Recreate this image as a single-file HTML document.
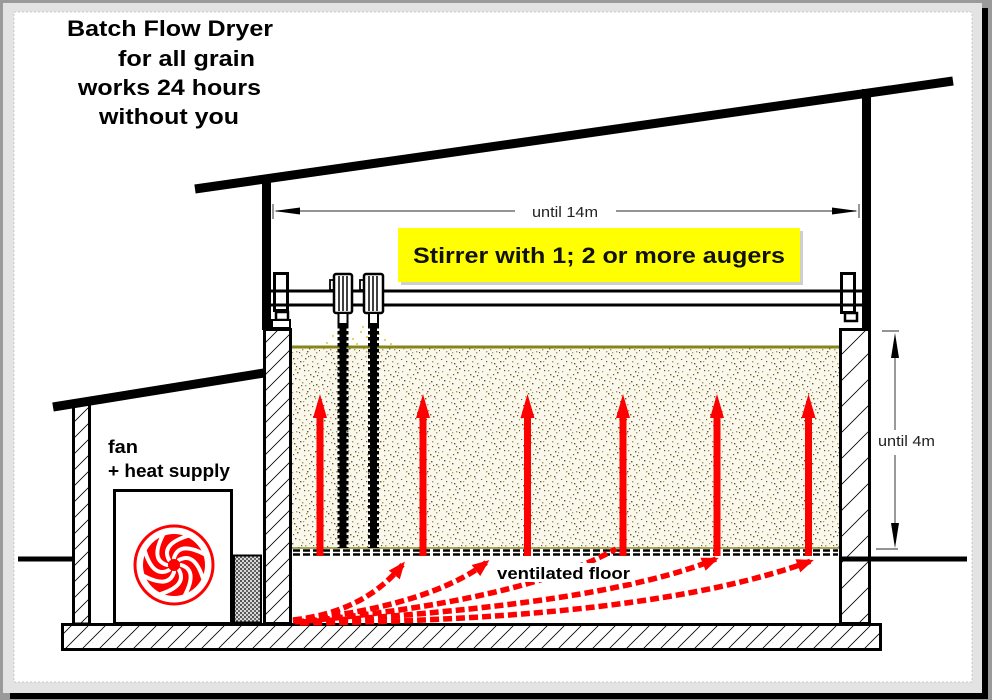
<!DOCTYPE html>
<html><head><meta charset="utf-8"><style>
html,body{margin:0;padding:0;background:#fff;}
svg{display:block;}
text{font-family:"Liberation Sans",Arial,sans-serif;}
</style></head><body>
<svg width="992" height="700" viewBox="0 0 992 700" xmlns="http://www.w3.org/2000/svg">
<defs>
<pattern id="h16" width="16" height="16" patternUnits="userSpaceOnUse"><path d="M0,16 L16,0 M-2,2 L2,-2 M14,18 L18,14" stroke="#000" stroke-width="0.8"/></pattern>
<pattern id="h26" width="26" height="26" patternUnits="userSpaceOnUse"><path d="M0,26 L26,0 M-2,2 L2,-2 M24,28 L28,24" stroke="#000" stroke-width="0.8"/></pattern>
<pattern id="h17" width="17" height="17" patternUnits="userSpaceOnUse"><path d="M0,17 L17,0 M-2,2 L2,-2 M15,19 L19,15" stroke="#000" stroke-width="0.8"/></pattern>
<pattern id="chk" width="4" height="4" patternUnits="userSpaceOnUse"><rect width="4" height="4" fill="#d8d8d8"/><rect x="0" y="0" width="2" height="2" fill="#555"/><rect x="2" y="2" width="2" height="2" fill="#666"/></pattern>
<pattern id="grain" width="40" height="40" patternUnits="userSpaceOnUse">
<rect width="40" height="40" fill="#faf8ec"/>
<g fill="#5f5a28">
<rect x="3" y="5" width="1.4" height="1.4"/><rect x="19" y="8" width="1.4" height="1.4"/><rect x="35" y="11" width="1.4" height="1.4"/><rect x="15" y="18" width="1.4" height="1.4"/><rect x="31" y="21" width="1.4" height="1.4"/><rect x="2" y="24" width="1.4" height="1.4"/><rect x="18" y="27" width="1.4" height="1.4"/><rect x="34" y="36" width="1.4" height="1.4"/><rect x="13" y="38" width="1.4" height="1.4"/><rect x="29" y="28" width="1.4" height="1.4"/><rect x="9" y="9" width="1.4" height="1.4"/><rect x="33" y="16" width="1.4" height="1.4"/><rect x="1" y="17" width="1.4" height="1.4"/><rect x="12" y="23" width="1.4" height="1.4"/><rect x="20" y="1" width="1.4" height="1.4"/><rect x="25" y="38" width="1.4" height="1.4"/><rect x="17" y="12" width="1.4" height="1.4"/><rect x="4" y="20" width="1.4" height="1.4"/><rect x="27" y="31" width="1.4" height="1.4"/><rect x="38" y="7" width="1.4" height="1.4"/><rect x="8" y="33" width="1.4" height="1.4"/><rect x="23" y="5" width="1.4" height="1.4"/><rect x="36" y="24" width="1.4" height="1.4"/><rect x="14" y="3" width="1.4" height="1.4"/><rect x="30" y="14" width="1.4" height="1.4"/>
<rect x="6" y="1" width="1.2" height="1.2"/><rect x="13" y="14" width="1.2" height="1.2"/><rect x="26" y="19" width="1.2" height="1.2"/><rect x="39" y="30" width="1.2" height="1.2"/><rect x="11" y="35" width="1.2" height="1.2"/><rect x="21" y="25" width="1.2" height="1.2"/><rect x="32" y="6" width="1.2" height="1.2"/><rect x="7" y="26" width="1.2" height="1.2"/><rect x="24" y="10" width="1.2" height="1.2"/><rect x="37" y="15" width="1.2" height="1.2"/><rect x="16" y="6" width="1.2" height="1.2"/><rect x="28" y="36" width="1.2" height="1.2"/><rect x="1" y="39" width="1.2" height="1.2"/><rect x="19" y="32" width="1.2" height="1.2"/><rect x="33" y="25" width="1.2" height="1.2"/>
</g>
<g fill="#a8985a">
<rect x="11" y="2" width="1.4" height="1.4"/><rect x="27" y="4" width="1.4" height="1.4"/><rect x="7" y="14" width="1.4" height="1.4"/><rect x="24" y="15" width="1.4" height="1.4"/><rect x="38" y="26" width="1.4" height="1.4"/><rect x="10" y="29" width="1.4" height="1.4"/><rect x="26" y="33" width="1.4" height="1.4"/><rect x="5" y="36" width="1.4" height="1.4"/><rect x="21" y="35" width="1.4" height="1.4"/><rect x="37" y="3" width="1.4" height="1.4"/><rect x="22" y="22" width="1.4" height="1.4"/><rect x="16" y="31" width="1.4" height="1.4"/><rect x="28" y="10" width="1.4" height="1.4"/><rect x="36" y="32" width="1.4" height="1.4"/><rect x="6" y="31" width="1.4" height="1.4"/><rect x="39" y="19" width="1.4" height="1.4"/><rect x="30" y="35" width="1.4" height="1.4"/><rect x="32" y="1" width="1.4" height="1.4"/><rect x="19" y="19" width="1.4" height="1.4"/><rect x="3" y="28" width="1.4" height="1.4"/><rect x="25" y="25" width="1.4" height="1.4"/><rect x="10" y="17" width="1.4" height="1.4"/><rect x="34" y="29" width="1.4" height="1.4"/><rect x="15" y="9" width="1.4" height="1.4"/><rect x="22" y="29" width="1.4" height="1.4"/>
<rect x="9" y="21" width="1.2" height="1.2"/><rect x="29" y="23" width="1.2" height="1.2"/><rect x="35" y="38" width="1.2" height="1.2"/><rect x="2" y="11" width="1.2" height="1.2"/><rect x="17" y="38" width="1.2" height="1.2"/><rect x="23" y="1" width="1.2" height="1.2"/><rect x="12" y="32" width="1.2" height="1.2"/><rect x="38" y="12" width="1.2" height="1.2"/>
</g>
</pattern>
<marker id="ra" markerUnits="userSpaceOnUse" markerWidth="18" markerHeight="16" refX="14" refY="8" orient="auto"><path d="M0,1 L17,8 L0,15 z" fill="#ff0000"/></marker>
<path id="blade" d="M7,0 Q24,5 11,30" fill="none" stroke="#fff" stroke-width="4" stroke-linecap="round"/>
</defs>

<!-- frame -->
<rect x="0" y="0" width="992" height="700" fill="#9a9a9a"/>
<rect x="3" y="3" width="979" height="690" fill="#e3e3e3"/>
<rect x="982" y="8" width="6" height="691" fill="#000"/>
<rect x="10" y="693" width="978" height="6" fill="#000"/>
<rect x="14" y="12" width="958" height="670" fill="#fff" stroke="#c8c8c8" stroke-width="1" stroke-dasharray="2 2"/>

<!-- title -->
<g font-weight="bold" font-size="22" fill="#000">
<text x="67" y="36" textLength="206" lengthAdjust="spacingAndGlyphs">Batch Flow Dryer</text>
<text x="118" y="66" textLength="137" lengthAdjust="spacingAndGlyphs">for all grain</text>
<text x="78" y="95" textLength="183" lengthAdjust="spacingAndGlyphs">works 24 hours</text>
<text x="99" y="124" textLength="140" lengthAdjust="spacingAndGlyphs">without you</text>
</g>

<!-- main roof and posts -->
<line x1="195" y1="189" x2="953" y2="81" stroke="#000" stroke-width="9"/>
<rect x="262" y="177" width="9" height="153" fill="#000"/>
<rect x="862" y="89" width="9" height="241" fill="#000"/>

<!-- 14m dimension -->
<g stroke="#555" stroke-width="1.2">
<line x1="276" y1="211" x2="515" y2="211"/>
<line x1="616" y1="211" x2="856" y2="211"/>
<line x1="273" y1="204" x2="273" y2="219"/>
<line x1="859" y1="204" x2="859" y2="218"/>
</g>
<path d="M274,211 L300,207.5 L300,214.5 z" fill="#000"/>
<path d="M858,211 L832,207.5 L832,214.5 z" fill="#000"/>
<text x="532" y="217" font-size="15" fill="#222" textLength="66" lengthAdjust="spacingAndGlyphs">until 14m</text>

<!-- yellow label -->
<rect x="401" y="231" width="402" height="54" fill="#cfcfcf"/>
<rect x="398" y="228" width="402" height="54" fill="#ffff00"/>
<text x="413" y="263" font-size="22" font-weight="bold" fill="#111" textLength="372" lengthAdjust="spacingAndGlyphs">Stirrer with 1; 2 or more augers</text>

<!-- grain -->
<rect x="292" y="347" width="547" height="201" fill="url(#grain)"/>
<line x1="292" y1="347" x2="839" y2="347" stroke="#858519" stroke-width="3"/>
<line x1="292" y1="548" x2="839" y2="548" stroke="#8a8a2a" stroke-width="1.5"/>
<!-- ventilated floor -->
<g stroke="#000" stroke-width="2.6" stroke-dasharray="7 3">
<line x1="293" y1="550.5" x2="838" y2="550.5"/>
<line x1="293" y1="554.5" x2="838" y2="554.5"/>
</g>

<!-- yellow dust near augers -->
<g fill="#e4d46a">
<rect x="332" y="335" width="2" height="2"/><rect x="338" y="330" width="2" height="2"/><rect x="346" y="333" width="2" height="2"/><rect x="352" y="338" width="2" height="2"/><rect x="360" y="331" width="2" height="2"/><rect x="366" y="336" width="2" height="2"/><rect x="378" y="333" width="2" height="2"/><rect x="384" y="339" width="2" height="2"/><rect x="341" y="340" width="2" height="2"/><rect x="356" y="343" width="2" height="2"/><rect x="372" y="341" width="2" height="2"/><rect x="390" y="343" width="2" height="2"/><rect x="326" y="342" width="2" height="2"/><rect x="362" y="326" width="2" height="2"/>
</g>

<!-- rails -->
<line x1="271" y1="291" x2="862" y2="291" stroke="#000" stroke-width="3"/>
<line x1="271" y1="305" x2="862" y2="305" stroke="#000" stroke-width="3"/>

<!-- left carriage -->
<rect x="274.5" y="273.5" width="13" height="37" fill="none" stroke="#000" stroke-width="3"/>
<rect x="276" y="312" width="12" height="8" fill="#fff" stroke="#000" stroke-width="2.5"/>
<rect x="272" y="320" width="18" height="8" fill="#fff" stroke="#000" stroke-width="2"/>
<!-- right carriage -->
<rect x="841.5" y="273.5" width="13" height="39" fill="none" stroke="#000" stroke-width="3"/>
<rect x="845" y="313" width="12" height="8" fill="#fff" stroke="#000" stroke-width="2.5"/>

<!-- augers -->
<g>
<line x1="343" y1="325" x2="343" y2="548" stroke="#000" stroke-width="7"/>
<line x1="343" y1="325" x2="343" y2="548" stroke="#000" stroke-width="11" stroke-dasharray="3.5 2.5"/>
<line x1="373.5" y1="325" x2="373.5" y2="548" stroke="#000" stroke-width="7"/>
<line x1="373.5" y1="325" x2="373.5" y2="548" stroke="#000" stroke-width="11" stroke-dasharray="3.5 2.5"/>
</g>
<!-- motors -->
<g stroke="#000" fill="#fff">
<rect x="330" y="280" width="4" height="10" stroke-width="1.8"/>
<rect x="334" y="274" width="18" height="39" rx="2" stroke-width="2.5"/>
<line x1="339" y1="276" x2="339" y2="311" stroke-width="1.5"/>
<line x1="343" y1="276" x2="343" y2="311" stroke-width="1.5"/>
<line x1="347" y1="276" x2="347" y2="311" stroke-width="1.5"/>
<rect x="338.5" y="313" width="9" height="11" stroke-width="2"/>
<rect x="360" y="280" width="4" height="10" stroke-width="1.8"/>
<rect x="364" y="274" width="19" height="39" rx="2" stroke-width="2.5"/>
<line x1="369" y1="276" x2="369" y2="311" stroke-width="1.5"/>
<line x1="373" y1="276" x2="373" y2="311" stroke-width="1.5"/>
<line x1="377" y1="276" x2="377" y2="311" stroke-width="1.5"/>
<rect x="369" y="313" width="9" height="11" stroke-width="2"/>
</g>

<!-- walls -->
<rect x="264.5" y="329.5" width="26" height="294" fill="url(#h16)" stroke="#000" stroke-width="3"/>
<rect x="840.5" y="329.5" width="29" height="294" fill="url(#h26)" stroke="#000" stroke-width="3"/>
<rect x="73.5" y="404" width="16" height="220" fill="url(#h16)" stroke="#000" stroke-width="3"/>

<!-- ground lines -->
<line x1="18" y1="559" x2="73" y2="559" stroke="#000" stroke-width="5"/>
<line x1="839" y1="559" x2="967" y2="559" stroke="#000" stroke-width="5"/>

<!-- annex roof -->
<line x1="53" y1="407" x2="264" y2="373" stroke="#000" stroke-width="9"/>

<!-- slab -->
<rect x="62.5" y="624.5" width="818" height="25" fill="url(#h17)" stroke="#000" stroke-width="3"/>

<!-- fan box -->
<rect x="114.5" y="490.5" width="117" height="133" fill="#fff" stroke="#000" stroke-width="3"/>
<circle cx="174" cy="565" r="39" fill="#fff" stroke="#ff0000" stroke-width="3"/>
<circle cx="174" cy="565" r="31" fill="#ff0000"/>
<g transform="translate(174,565)">
<use href="#blade"/>
<use href="#blade" transform="rotate(45)"/>
<use href="#blade" transform="rotate(90)"/>
<use href="#blade" transform="rotate(135)"/>
<use href="#blade" transform="rotate(180)"/>
<use href="#blade" transform="rotate(225)"/>
<use href="#blade" transform="rotate(270)"/>
<use href="#blade" transform="rotate(315)"/>
<circle r="6" fill="#ff0000"/>
</g>
<!-- filter -->
<rect x="234" y="555.5" width="27" height="67" fill="url(#chk)" stroke="#000" stroke-width="2"/>

<!-- fan text -->
<g font-weight="bold" font-size="18" fill="#000">
<text x="108" y="453" textLength="30" lengthAdjust="spacingAndGlyphs">fan</text>
<text x="108" y="477" textLength="122" lengthAdjust="spacingAndGlyphs">+ heat supply</text>
</g>

<!-- red vertical arrows -->
<g fill="#ff0000">
<rect x="316.5" y="414" width="7" height="142"/><path d="M320,394 L327,418 L313,418 z"/>
<rect x="419.5" y="414" width="7" height="142"/><path d="M423,394 L430,418 L416,418 z"/>
<rect x="524" y="414" width="7" height="142"/><path d="M527.5,394 L534.5,418 L520.5,418 z"/>
<rect x="619.5" y="414" width="7" height="142"/><path d="M623,394 L630,418 L616,418 z"/>
<rect x="713.5" y="414" width="7" height="142"/><path d="M717,394 L724,418 L710,418 z"/>
<rect x="805" y="414" width="7" height="142"/><path d="M808.5,394 L815.5,418 L801.5,418 z"/>
</g>

<!-- dashed red air flow -->
<g fill="none" stroke="#ff0000" stroke-width="5.5" stroke-dasharray="9 4">
<path d="M293,620 Q365,612 403,564" marker-end="url(#ra)"/>
<path d="M293,621 Q430,606 487,562" marker-end="url(#ra)"/>
<path d="M295,622 Q520,602 616,549"/>
<path d="M300,622 Q600,606 716,559" marker-end="url(#ra)"/>
<path d="M300,623 Q650,620 811,561" marker-end="url(#ra)"/>
</g>

<!-- ventilated floor label -->
<rect x="495" y="563" width="137" height="19" fill="#fff"/>
<text x="497" y="579" font-size="17" font-weight="bold" fill="#000" textLength="133" lengthAdjust="spacingAndGlyphs">ventilated floor</text>

<!-- 4m dimension -->
<g stroke="#555" stroke-width="1.2">
<line x1="882" y1="331" x2="899" y2="331"/>
<line x1="876" y1="549" x2="898" y2="549"/>
<line x1="895" y1="350" x2="895" y2="430"/>
<line x1="895" y1="455" x2="895" y2="530"/>
</g>
<path d="M895,333 L899,358 L891,358 z" fill="#000"/>
<path d="M895,548 L899,523 L891,523 z" fill="#000"/>
<text x="878" y="446" font-size="15" fill="#222" textLength="57" lengthAdjust="spacingAndGlyphs">until 4m</text>
</svg>
</body></html>
